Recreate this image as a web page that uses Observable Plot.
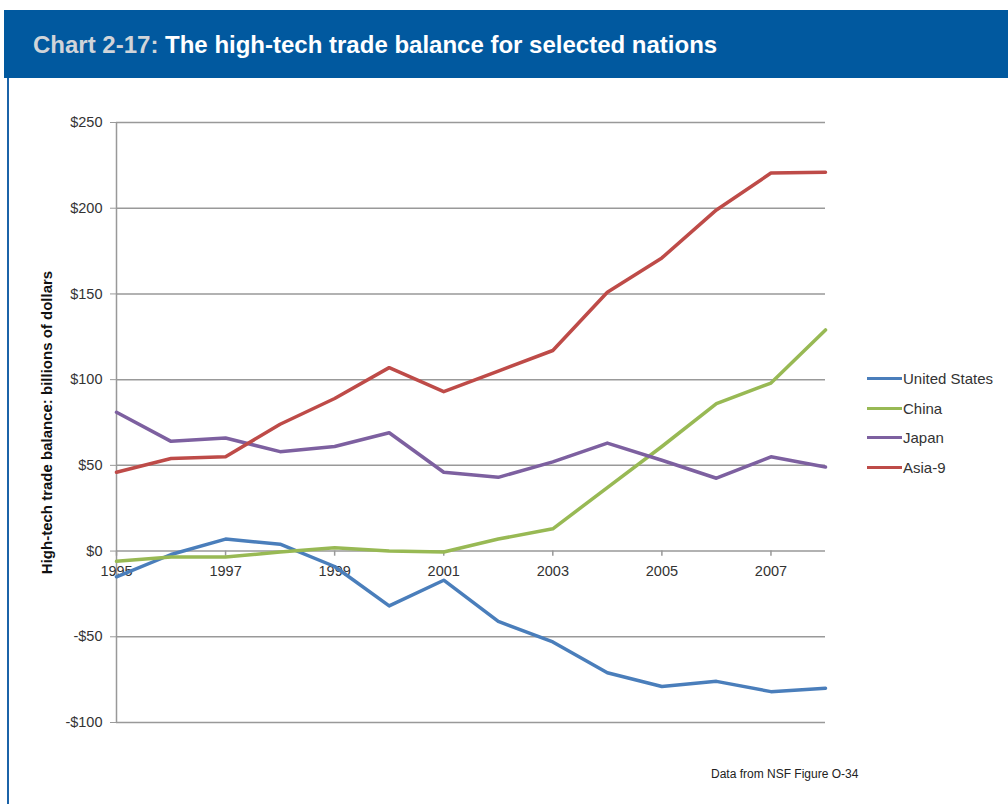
<!DOCTYPE html>
<html>
<head>
<meta charset="utf-8">
<script src="https://cdn.jsdelivr.net/npm/d3@7"></script>
<script src="https://cdn.jsdelivr.net/npm/@observablehq/plot@0.6"></script>
<style>
  html, body { margin: 0; padding: 0; background: #fff; }
  body { width: 1008px; height: 804px; position: relative; overflow: hidden; font-family: "Liberation Sans", Arial, sans-serif; }
  #header { position: absolute; left: 4px; top: 10px; width: 1004px; height: 68px; background: #01599f; }
  #title { position: absolute; left: 29px; top: 23px; font-size: 24px; line-height: 24px; font-weight: bold; color: #fff; white-space: nowrap; }
  #title .num { color: #d0d4d9; }
  #border { position: absolute; left: 7px; top: 78px; width: 2px; height: 726px; background: #1b63a8; }
  #chart { position: absolute; left: 0; top: 80px; }
  #legend { position: absolute; left: 867px; top: 364px; font-size: 15px; color: #333; }
  .item { display: flex; align-items: center; height: 29.6px; }
  .sw { width: 35px; height: 3px; margin-right: 1px; }
  #caption { position: absolute; left: 711px; top: 767px; font-size: 12px; color: #222; white-space: nowrap; }
</style>
</head>
<body>
<div id="header"><div id="title"><span class="num">Chart 2-17:</span> The high-tech trade balance for selected nations</div></div>
<div id="border"></div>
<div id="chart"></div>
<div id="legend"></div>
<div id="caption">Data from NSF Figure O-34</div>
<script>
const years = [1995, 1996, 1997, 1998, 1999, 2000, 2001, 2002, 2003, 2004, 2005, 2006, 2007, 2008];
const seriesNames = ["United States", "China", "Japan", "Asia-9"];
const seriesColors = ["#4a7ebb", "#98b954", "#7d60a0", "#be4b48"];
const usValues = [-15, -2, 7, 4, -9, -32, -17, -41, -53, -71, -79, -76, -82, -80];
const chinaValues = [-6, -3.5, -3.5, -0.5, 2, 0, -0.5, 7, 13, 37, 61, 86, 98, 129];
const japanValues = [81, 64, 66, 58, 61, 69, 46, 43, 52, 63, 53, 42.5, 55, 49];
const asiaValues = [46, 54, 55, 74, 89, 107, 93, 105, 117, 151, 171, 199, 220.5, 221];
const yTicks = [-100, -50, 0, 50, 100, 150, 200, 250];
const xTickYears = [1995, 1997, 1999, 2001, 2003, 2005, 2007];
const yLabel = "High-tech trade balance: billions of dollars";

const allValues = [usValues, chinaValues, japanValues, asiaValues];
const data = [];
seriesNames.forEach((name, i) => {
  years.forEach((yr, j) => data.push({series: name, year: yr, value: allValues[i][j]}));
});

const fmt = d => (d < 0 ? "-$" + Math.abs(d) : "$" + d);

const chart = Plot.plot({
  width: 1008,
  height: 720,
  marginTop: 42,
  marginBottom: 78,
  marginLeft: 116,
  marginRight: 183,
  style: { fontFamily: "Liberation Sans, Arial, sans-serif", background: "transparent" },
  x: { domain: [1995, 2008], axis: null },
  y: { domain: [-100, 250], axis: null },
  color: { domain: seriesNames, range: seriesColors },
  marks: [
    Plot.ruleY(yTicks, { stroke: "#999", strokeWidth: 1.5 }),
    Plot.ruleX([1995], { stroke: "#999", strokeWidth: 1.5 }),
    Plot.axisY({ ticks: yTicks, tickSize: 6, tickPadding: 8, tickFormat: fmt, fontSize: 14.5, color: "#333", stroke: "#999", label: null }),
    Plot.ruleX(xTickYears, { y1: 0, y2: -3, stroke: "#999", strokeWidth: 1.5 }),
    Plot.text(xTickYears, { x: d => d, y: 0, dy: 20, text: d => String(d), fontSize: 14.5, fill: "#333" }),
    Plot.text([yLabel], { frameAnchor: "left", textAnchor: "middle", rotate: -90, dx: -69, fontSize: 15, fontWeight: "bold", fill: "#111", style: "letter-spacing:0.8px" }),
    Plot.line(data, { x: "year", y: "value", z: "series", stroke: "series", strokeWidth: 3.5, strokeLinejoin: "round" })
  ]
});
document.getElementById("chart").appendChild(chart);

const legend = document.getElementById("legend");
seriesNames.forEach((name, i) => {
  const item = document.createElement("div");
  item.className = "item";
  const sw = document.createElement("div");
  sw.className = "sw";
  sw.style.background = seriesColors[i];
  const label = document.createElement("span");
  label.textContent = name;
  item.appendChild(sw);
  item.appendChild(label);
  legend.appendChild(item);
});
</script>
</body>
</html>
